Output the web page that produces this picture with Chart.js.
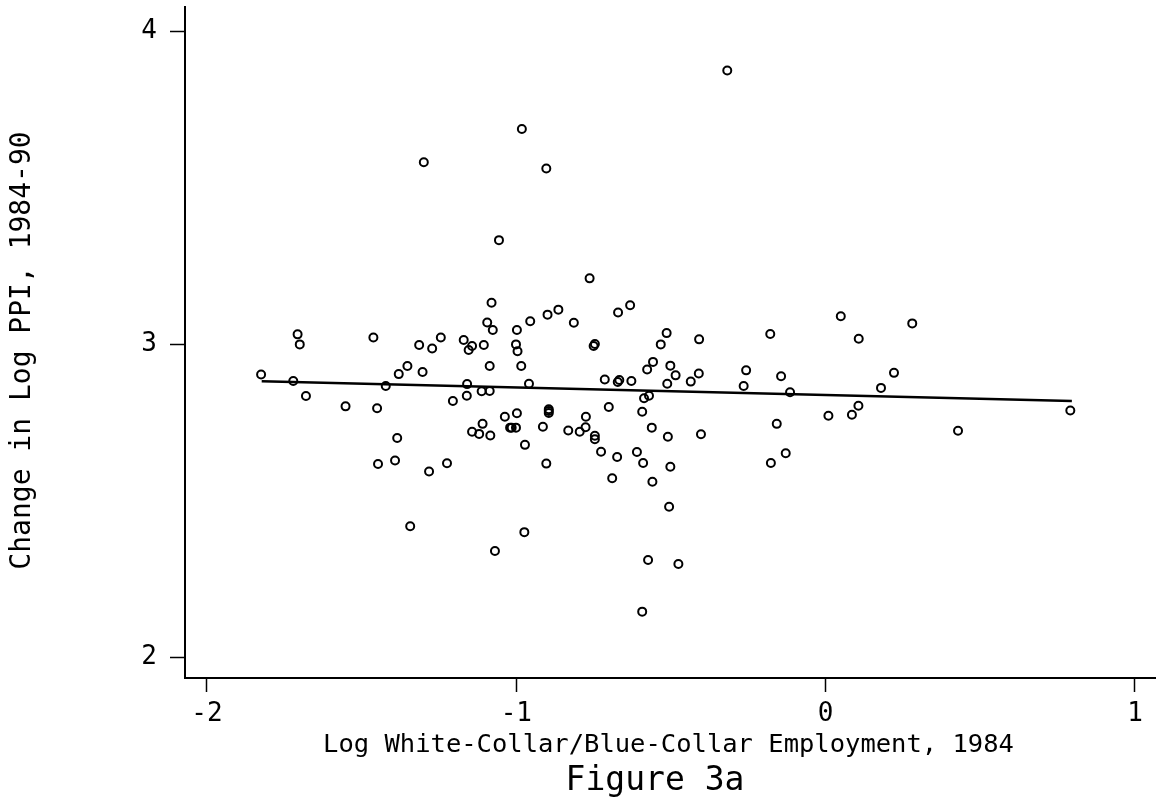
<!DOCTYPE html>
<html>
<head>
<meta charset="utf-8">
<title>Figure 3a</title>
<script src="https://cdn.jsdelivr.net/npm/chart.js@4"></script>
<style>
  html, body { margin: 0; padding: 0; background: #fff; }
  #plot { display: block; }
</style>
</head>
<body>
<canvas id="plot" width="1156" height="802"></canvas>
<script>
// Industries: log white-collar / blue-collar employment ratio, 1984
const wcbcRatio = [
    -1.825, -1.721, -1.707, -1.700, -1.680, -1.552, -1.462, -1.450, -1.447, -1.422,
    -1.392, -1.385, -1.380, -1.352, -1.343, -1.314, -1.303, -1.299, -1.282, -1.272,
    -1.244, -1.224, -1.205, -1.170, -1.159, -1.154, -1.143, -1.160, -1.143, -1.120,
    -1.109, -1.112, -1.105, -1.094, -1.086, -1.086, -1.084, -1.080, -1.076, -1.069,
    -1.056, -1.037, -1.020, -1.015, -1.001, -0.998, -1.001, -0.996, -0.998, -0.984,
    -0.982, -0.974, -0.972, -0.959, -0.955, -0.914, -0.903, -0.903, -0.895, -0.895,
    -0.895, -0.899, -0.864, -0.832, -0.814, -0.795, -0.776, -0.775, -0.763, -0.750,
    -0.746, -0.746, -0.746, -0.726, -0.714, -0.701, -0.690, -0.674, -0.672, -0.667,
    -0.671, -0.632, -0.628, -0.610, -0.593, -0.590, -0.593, -0.587, -0.571, -0.577,
    -0.574, -0.562, -0.560, -0.558, -0.533, -0.514, -0.512, -0.510, -0.506, -0.502,
    -0.502, -0.485, -0.476, -0.436, -0.410, -0.409, -0.403, -0.318, -0.265, -0.257,
    -0.179, -0.177, -0.158, -0.144, -0.129, -0.115, 0.009, 0.049, 0.085, 0.106,
    0.107, 0.179, 0.221, 0.280, 0.428, 0.791
];

// Change in log PPI, 1984-90 (same order)
const ppiChange = [
    2.903, 2.882, 3.031, 2.999, 2.834, 2.801, 3.021, 2.795, 2.617, 2.866,
    2.628, 2.700, 2.904, 2.930, 2.418, 2.997, 2.911, 3.581, 2.593, 2.986,
    3.021, 2.619, 2.818, 3.013, 2.872, 2.981, 2.994, 2.835, 2.720, 2.713,
    2.745, 2.849, 2.997, 3.069, 2.930, 2.850, 2.708, 3.132, 3.045, 2.339,
    3.332, 2.768, 2.733, 2.733, 2.733, 2.779, 2.999, 2.977, 3.045, 2.930,
    3.687, 2.399, 2.678, 2.873, 3.073, 2.736, 3.561, 2.618, 2.792, 2.780,
    2.786, 3.094, 3.110, 2.724, 3.068, 2.720, 2.734, 2.768, 3.210, 2.994,
    3.000, 2.707, 2.696, 2.656, 2.887, 2.799, 2.571, 2.639, 2.879, 2.885,
    3.101, 3.124, 2.882, 2.655, 2.784, 2.620, 2.145, 2.827, 2.835, 2.919,
    2.310, 2.733, 2.560, 2.943, 2.999, 3.035, 2.873, 2.704, 2.480, 2.608,
    2.931, 2.900, 2.297, 2.880, 2.906, 3.015, 2.712, 3.874, 2.866, 2.916,
    3.032, 2.620, 2.745, 2.897, 2.651, 2.846, 2.771, 3.089, 2.774, 2.803,
    3.017, 2.860, 2.908, 3.066, 2.723, 2.788
];

// Fitted regression line end points
const fitX = [-1.823, 0.796];
const fitY = [2.881, 2.818];

// Axis ticks and labels
const xTicks = [-2, -1, 0, 1];
const yTicks = [2, 3, 4];
const xTitle = 'Log White-Collar/Blue-Collar Employment, 1984';
const yTitle = 'Change in Log PPI, 1984-90';
const caption = 'Figure 3a';

const FONT = '"DejaVu Sans Mono", "Liberation Mono", monospace';

// Draws axis titles and the figure caption
const titlePlugin = {
    id: 'titlePlugin',
    afterDraw: (chart) => {
        const {ctx, chartArea: {top, bottom, left, right}} = chart;
        const midX = (left + right) / 2;
        const midY = (top + bottom) / 2;

        ctx.save();
        ctx.fillStyle = '#000';
        ctx.textAlign = 'center';
        ctx.textBaseline = 'alphabetic';

        ctx.font = '25.5px ' + FONT;
        ctx.fillText(xTitle, midX - 2, 752);

        ctx.font = '33px ' + FONT;
        ctx.fillText(caption, 655, 790);

        // Rotated y title
        ctx.translate(30, midY + 8);
        ctx.rotate(-Math.PI / 2);
        ctx.font = '28px ' + FONT;
        ctx.fillText(yTitle, 0, 0);
        ctx.restore();
    }
};

const ctx = document.getElementById('plot').getContext('2d');

const chart = new Chart(ctx, {
    type: 'scatter',
    data: {
        datasets: [{
            label: 'Industries',
            data: wcbcRatio.map(function(x, i) {
                return {x: x, y: ppiChange[i]};
            }),
            pointStyle: 'circle',
            pointRadius: 4,
            pointBorderWidth: 2,
            borderColor: '#000',
            backgroundColor: 'rgba(0,0,0,0)',
            order: 2
        }, {
            type: 'line',
            label: 'Fit',
            data: fitX.map(function(x, i) {
                return {x: x, y: fitY[i]};
            }),
            borderColor: '#000',
            borderWidth: 2.5,
            pointRadius: 0,
            fill: false,
            order: 1
        }]
    },
    options: {
        responsive: false,
        animation: false,
        devicePixelRatio: 1,
        layout: {
            autoPadding: false,
            padding: {top: 7, left: 0, right: 0, bottom: 0}
        },
        plugins: {
            legend: {display: false},
            tooltip: {enabled: false}
        },
        scales: {
            x: {
                type: 'linear',
                min: -2.071,
                max: 1.068,
                afterBuildTicks: function(scale) {
                    scale.ticks = xTicks.map(function(v) { return {value: v}; });
                },
                afterFit: function(scale) {
                    scale.height = 124;
                    scale.paddingLeft = 0;
                    scale.paddingRight = 0;
                },
                ticks: {
                    color: '#000',
                    padding: 7,
                    maxRotation: 0,
                    font: {family: FONT, size: 26},
                    callback: function(value) { return String(value); }
                },
                grid: {
                    drawOnChartArea: false,
                    drawTicks: true,
                    tickLength: 14,
                    tickWidth: 1.5,
                    tickColor: '#000'
                },
                border: {display: true, color: '#000', width: 2}
            },
            y: {
                type: 'linear',
                min: 1.933,
                max: 4.077,
                afterBuildTicks: function(scale) {
                    scale.ticks = yTicks.map(function(v) { return {value: v}; });
                },
                afterFit: function(scale) {
                    scale.width = 185;
                    scale.paddingTop = 0;
                    scale.paddingBottom = 0;
                },
                ticks: {
                    color: '#000',
                    padding: 13,
                    font: {family: FONT, size: 26},
                    callback: function(value) { return String(value); }
                },
                grid: {
                    drawOnChartArea: false,
                    drawTicks: true,
                    tickLength: 15,
                    tickWidth: 1.5,
                    tickColor: '#000'
                },
                border: {display: true, color: '#000', width: 2}
            }
        }
    },
    plugins: [titlePlugin]
});
</script>
</body>
</html>
